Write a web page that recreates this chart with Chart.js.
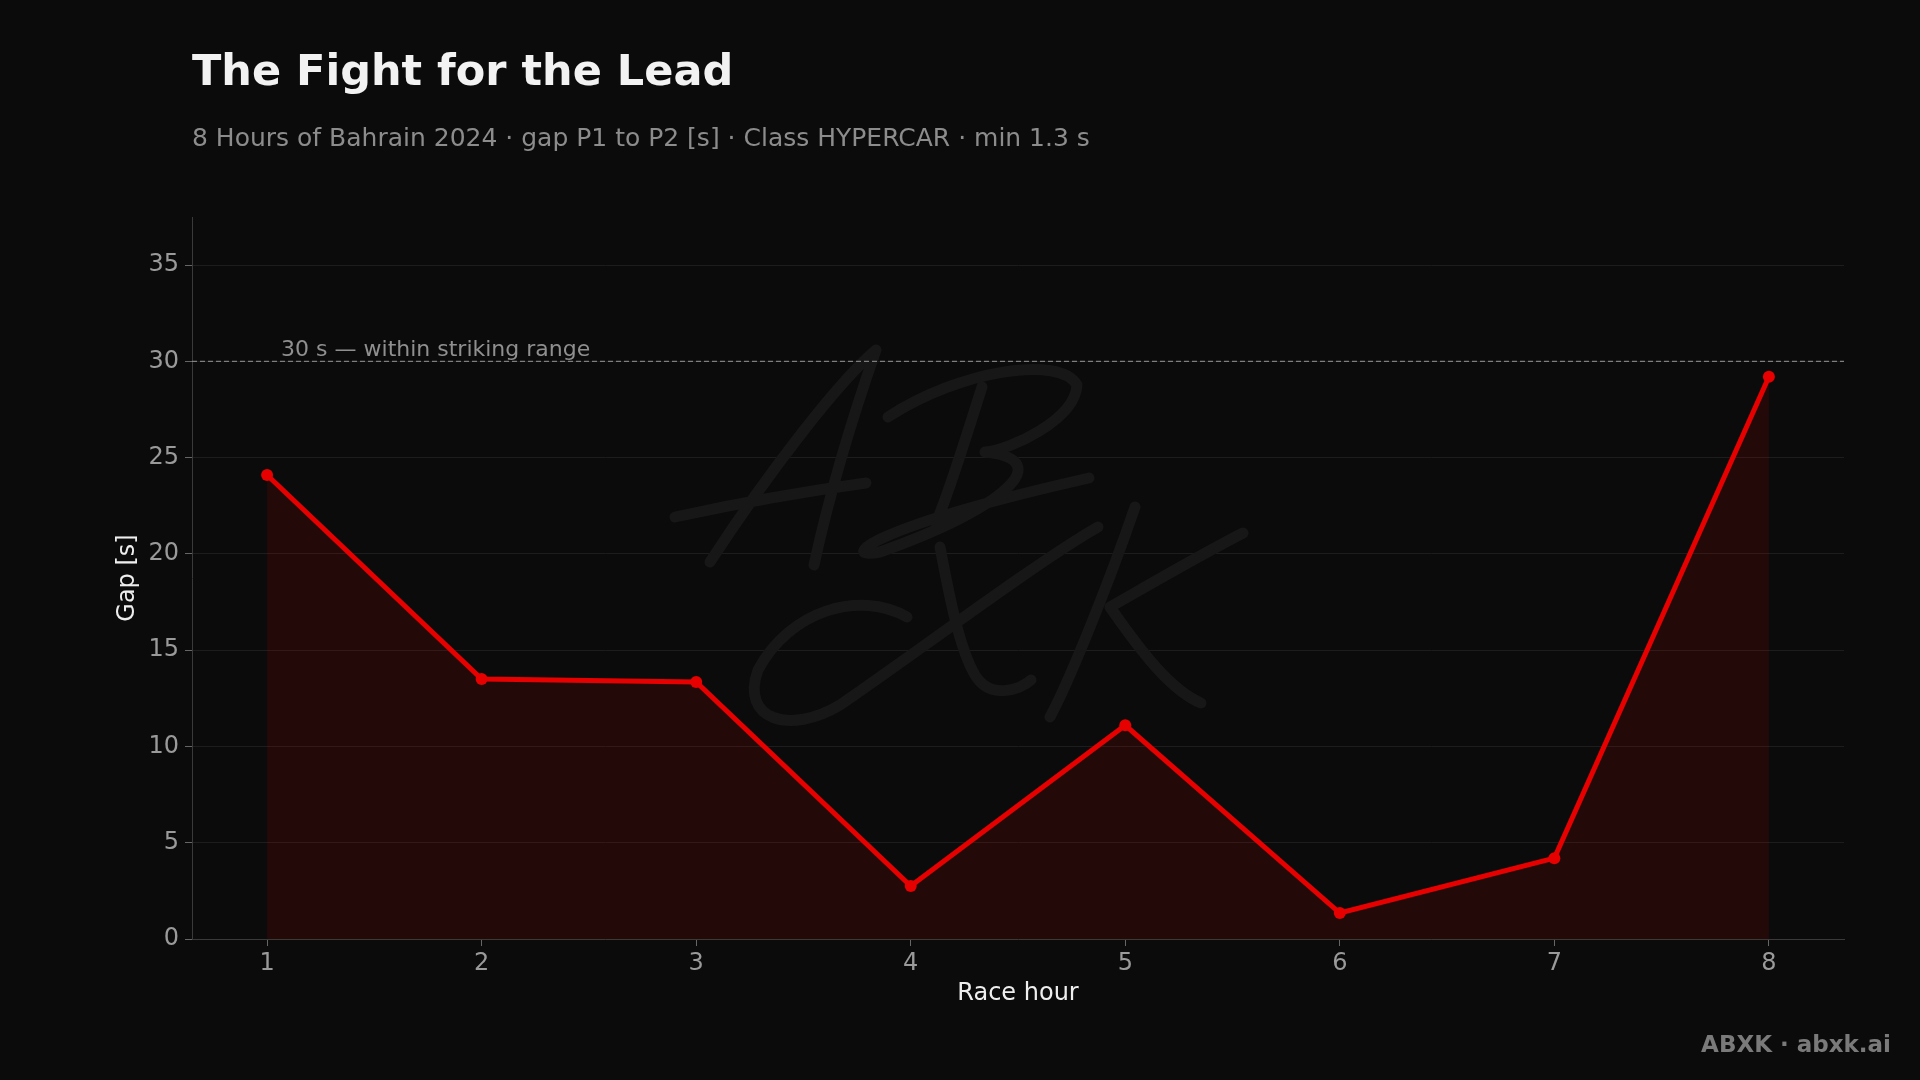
<!DOCTYPE html>
<html>
<head>
<meta charset="utf-8">
<script src="https://cdn.jsdelivr.net/npm/chart.js@4.4.1/dist/chart.umd.min.js"></script>
<style>
  html, body { margin: 0; padding: 0; background: #0b0b0b; }
  #wrap { position: relative; width: 1920px; height: 1080px; overflow: hidden; font-family: 'DejaVu Sans', sans-serif; }
  #c { position: absolute; left: 0; top: 0; }
  .t { position: absolute; white-space: nowrap; line-height: 1; }
  #title { left: 192px; top: 49px; font-size: 43px; font-weight: bold; color: #f2f2f2; }
  #subtitle { left: 192px; top: 125px; font-size: 25px; color: #8c8c8c; }
  #footer { right: 29px; top: 1033px; font-size: 23px; font-weight: bold; color: #7a7a7a; }
</style>
</head>
<body>
<div id="wrap">
  <canvas id="c" width="1920" height="1080"></canvas>
  <div class="t" id="title">The Fight for the Lead</div>
  <div class="t" id="subtitle">8 Hours of Bahrain 2024 · gap P1 to P2 [s] · Class HYPERCAR · min 1.3 s</div>
  <div class="t" id="footer">ABXK · abxk.ai</div>
</div>
<script>
// ---- data ----
const raceHours = [1, 2, 3, 4, 5, 6, 7, 8];
const gapSeconds = [24.1, 13.5, 13.35, 2.75, 11.1, 1.35, 4.2, 29.2];
const yTickValues = [0, 5, 10, 15, 20, 25, 30, 35];
const thresholdValue = 30;
const thresholdLabel = '30 s — within striking range';
const xAxisTitle = 'Race hour';
const yAxisTitle = 'Gap [s]';

const FONT = "'DejaVu Sans', sans-serif";

const watermark = {
  id: 'watermark',
  beforeDatasetsDraw(chart) {
    const ctx = chart.ctx;
    ctx.save();
    ctx.strokeStyle = '#171717';
    ctx.lineWidth = 11;
    ctx.lineCap = 'round';
    ctx.lineJoin = 'round';
    const paths = [
      // A
      [[710,562],[770,470],[840,380],[876,350]],
      [[876,350],[848,430],[826,510],[814,565]],
      [[675,517],[730,505],[800,492],[866,483]],
      // B
      [[982,387],[965,440],[950,490],[936,523]],
      [[888,417],[960,370],[1060,355],[1077,385]],
      [[1077,385],[1075,420],[1010,450],[985,452]],
      [[985,452],[1060,460],[1000,510],[880,552]],
      [[880,552],[840,560],[860,530],[1089,478]],
      // X
      [[907,617],[860,590],[790,610],[758,670]],
      [[758,670],[740,720],[790,735],[840,705]],
      [[840,705],[920,650],[1040,560],[1098,527]],
      [[940,547],[950,600],[960,650],[975,675]],
      [[975,675],[990,700],[1020,690],[1031,680]],
      // K
      [[1135,507],[1110,580],[1070,680],[1050,717]],
      [[1243,533],[1200,555],[1140,590],[1110,607]],
      [[1110,607],[1140,650],[1170,690],[1201,703]],
    ];
    ctx.beginPath();
    for (const p of paths) {
      ctx.moveTo(p[0][0], p[0][1]);
      ctx.bezierCurveTo(p[1][0], p[1][1], p[2][0], p[2][1], p[3][0], p[3][1]);
    }
    ctx.stroke();
    ctx.restore();
  }
};

const threshold = {
  id: 'threshold',
  beforeDatasetsDraw(chart) {
    const ctx = chart.ctx;
    const area = chart.chartArea;
    const y = chart.scales.y.getPixelForValue(thresholdValue);
    const xText = chart.scales.x.getPixelForValue(raceHours[0]) + 14;
    ctx.save();
    ctx.strokeStyle = 'rgba(160,160,160,0.75)';
    ctx.lineWidth = 1.2;
    ctx.setLineDash([5, 3]);
    ctx.beginPath();
    ctx.moveTo(area.left, y);
    ctx.lineTo(area.right, y);
    ctx.stroke();
    ctx.setLineDash([]);
    ctx.fillStyle = '#8f8f8f';
    ctx.font = '22px ' + FONT;
    ctx.textBaseline = 'alphabetic';
    ctx.textAlign = 'left';
    ctx.fillText(thresholdLabel, xText, y - 5);
    ctx.restore();
  }
};

new Chart(document.getElementById('c'), {
  type: 'line',
  data: {
    datasets: [{
      data: raceHours.map((h, i) => ({ x: h, y: gapSeconds[i] })),
      borderColor: '#e60000',
      backgroundColor: 'rgba(220,0,0,0.12)',
      fill: 'origin',
      borderWidth: 5,
      pointRadius: 6,
      pointBackgroundColor: '#e60000',
      pointBorderColor: '#e60000',
      pointBorderWidth: 0,
      tension: 0,
    }]
  },
  options: {
    responsive: false,
    animation: false,
    events: [],
    layout: { padding: { left: 0, top: 217, right: 76, bottom: 0 } },
    plugins: { legend: { display: false }, tooltip: { enabled: false } },
    scales: {
      x: {
        type: 'linear',
        min: 0.65,
        max: 8.35,
        afterBuildTicks: s => { s.ticks = raceHours.map(v => ({ value: v })); },
        afterFit: s => { s.height = 141; },
        border: { display: true, color: '#3a3a3a', width: 1 },
        grid: { display: true, drawOnChartArea: false, drawTicks: true, tickLength: 7, tickColor: '#666', lineWidth: 1 },
        ticks: { color: '#9a9a9a', font: { family: FONT, size: 24 }, padding: 3, maxRotation: 0 },
        title: { display: true, text: xAxisTitle, color: '#eeeeee', font: { family: FONT, size: 24 }, padding: { top: 0, bottom: 72 } }
      },
      y: {
        type: 'linear',
        min: 0,
        max: 37.5,
        afterBuildTicks: s => { s.ticks = yTickValues.map(v => ({ value: v })); },
        afterFit: s => { s.width = 192; },
        border: { display: true, color: '#3a3a3a', width: 1 },
        grid: { display: true, color: '#1d1d1d', lineWidth: 1, drawTicks: true, tickLength: 7, tickColor: '#666' },
        ticks: { color: '#9a9a9a', font: { family: FONT, size: 24 }, padding: 6 },
        title: { display: true, text: yAxisTitle, color: '#eeeeee', font: { family: FONT, size: 24 }, padding: { top: 113, bottom: 0 } }
      }
    }
  },
  plugins: [watermark, threshold]
});
</script>
</body>
</html>
